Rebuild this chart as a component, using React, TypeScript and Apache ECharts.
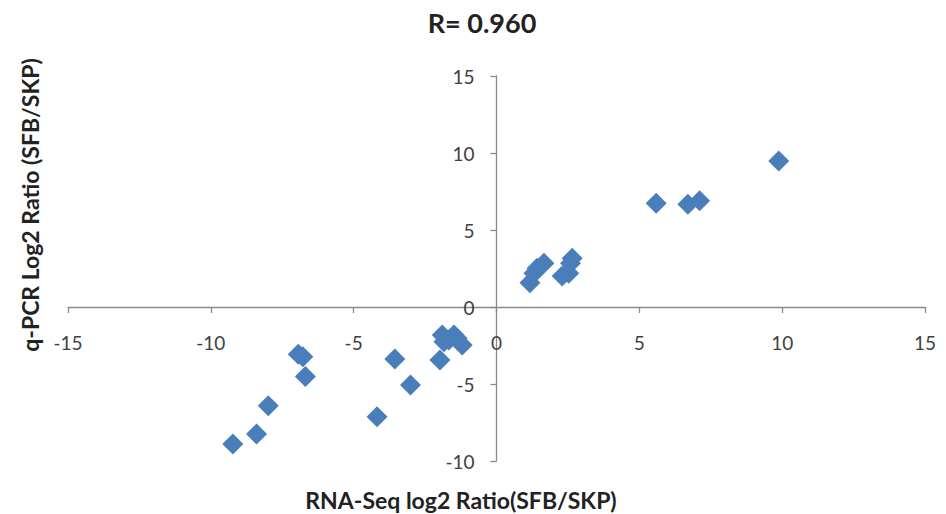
import React, { useEffect, useRef } from "react";
import * as echarts from "echarts";

const chartTitle = "R= 0.960";
const xAxisName = "RNA-Seq log2 Ratio(SFB/SKP)";
const yAxisName = "q-PCR Log2 Ratio (SFB/SKP)";

const rnaSeqLog2 = [
  9.88, 5.59, 6.7, 7.11, 1.17, 1.31, 1.42, 1.66, 2.3, 2.53, 2.59, 2.65,
  -9.23, -8.4, -7.99, -6.94, -6.78, -6.69, -4.18, -3.56, -3.01, -1.98,
  -1.9, -1.49, -1.67, -1.84, -1.2, -1.38,
];
const qpcrLog2 = [
  9.48, 6.73, 6.67, 6.9, 1.58, 2.19, 2.51, 2.84, 2.01, 2.19, 2.84, 3.16,
  -8.9, -8.25, -6.41, -3.07, -3.23, -4.52, -7.12, -3.38, -5.06, -3.44,
  -1.82, -1.82, -2.14, -2.25, -2.47, -2.03,
];

const FONT = "Lato, 'Open Sans', sans-serif";

const GRID = { left: 68, right: 21, top: 76, bottom: 53 };
const W = 946;
const H = 514;
const X_MIN = -15, X_MAX = 15, Y_MIN = -10, Y_MAX = 15;

export default function App() {
  const ref = useRef<HTMLDivElement>(null);
  useEffect(() => {
    document.body.style.margin = "0";
    if (!ref.current) return;
    const chart = echarts.init(ref.current, undefined, { renderer: "svg" });
    const data = rnaSeqLog2.map((x, i) => [x, qpcrLog2[i]]);
    const plotW = W - GRID.left - GRID.right;
    const plotH = H - GRID.top - GRID.bottom;
    // shift axes so they cross at zero
    const xOffset = -(plotH * (0 - Y_MIN)) / (Y_MAX - Y_MIN);
    const yOffset = -(plotW * (0 - X_MIN)) / (X_MAX - X_MIN);
    const axisColor = "#8a8a8a";
    chart.setOption({
      animation: false,
      backgroundColor: "#ffffff",
      grid: GRID,
      xAxis: {
        type: "value",
        min: X_MIN,
        max: X_MAX,
        interval: 5,
        position: "bottom",
        offset: xOffset,
        axisLine: { onZero: false, lineStyle: { color: axisColor, width: 1.3 } },
        axisTick: { show: true, length: 6, lineStyle: { color: axisColor, width: 1.3 } },
        axisLabel: { margin: 26, fontFamily: FONT, fontSize: 19, color: "#404040" },
        splitLine: { show: false },
      },
      yAxis: {
        type: "value",
        min: Y_MIN,
        max: Y_MAX,
        interval: 5,
        position: "left",
        offset: yOffset,
        axisLine: { show: true, onZero: false, lineStyle: { color: axisColor, width: 1.3 } },
        axisTick: { show: true, length: 6, lineStyle: { color: axisColor, width: 1.3 } },
        axisLabel: { margin: 22, fontFamily: FONT, fontSize: 19, color: "#404040" },
        splitLine: { show: false },
      },
      graphic: [
        {
          type: "text",
          x: 482,
          y: 22,
          style: {
            text: chartTitle,
            fontFamily: FONT,
            fontSize: 27,
            fontWeight: "bold",
            fill: "#222",
            align: "center",
            verticalAlign: "middle",
          },
        },
        {
          type: "text",
          x: 461,
          y: 500,
          style: {
            text: xAxisName,
            fontFamily: FONT,
            fontSize: 23,
            fontWeight: "bold",
            fill: "#222",
            align: "center",
            verticalAlign: "middle",
          },
        },
        {
          type: "text",
          x: 30,
          y: 205,
          rotation: Math.PI / 2,
          style: {
            text: yAxisName,
            fontFamily: FONT,
            fontSize: 23,
            fontWeight: "bold",
            fill: "#222",
            align: "center",
            verticalAlign: "middle",
          },
        },
      ],
      series: [
        {
          type: "scatter",
          symbol: "diamond",
          symbolSize: 21,
          itemStyle: { color: "#4A7EBB", opacity: 1 },
          data,
        },
      ],
    });
    return () => chart.dispose();
  }, []);
  return <div ref={ref} style={{ width: W, height: H }} />;
}
